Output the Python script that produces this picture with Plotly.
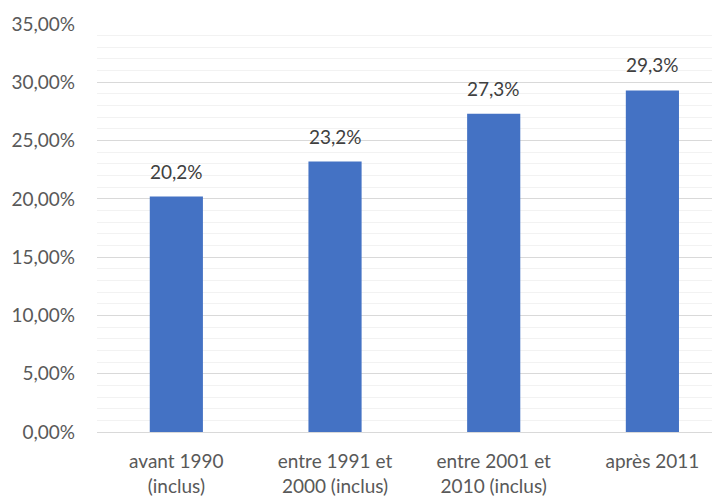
import plotly.graph_objects as go

categories = ["avant 1990<br>(inclus)", "entre 1991 et<br>2000 (inclus)",
              "entre 2001 et<br>2010 (inclus)", "après 2011"]
values = [20.2, 23.2, 27.3, 29.3]
labels = ["20,2%", "23,2%", "27,3%", "29,3%"]
tick_vals = [0, 5, 10, 15, 20, 25, 30, 35]
tick_text = ["0,00%", "5,00%", "10,00%", "15,00%", "20,00%", "25,00%", "30,00%", "35,00%"]

FONT = "Lato"
FS = 19

fig = go.Figure()
fig.add_trace(go.Bar(
    x=list(range(len(categories))), y=values,
    marker=dict(color="#4472C4", line=dict(width=0)),
    width=0.335, hoverinfo="skip",
))
for i, (v, t) in enumerate(zip(values, labels)):
    fig.add_annotation(x=i, y=v, text=t, showarrow=False, yanchor="bottom",
                       yshift=12, font=dict(family=FONT, size=FS, color="#404040"))

fig.update_layout(
    width=720, height=499,
    margin=dict(l=89, r=8, t=16, b=75),
    paper_bgcolor="white", plot_bgcolor="white",
    showlegend=False,
    separators=", ",
    font=dict(family=FONT, size=FS, color="#595959"),
)
fig.update_xaxes(
    automargin=False,
    range=[-0.5, 3.426], tickmode="array",
    tickvals=list(range(len(categories))), ticktext=categories,
    showgrid=False, zeroline=False, showline=False, ticks="",
    tickfont=dict(family=FONT, size=FS, color="#595959"),
    ticklabelstandoff=16,
)
fig.update_yaxes(
    automargin=False,
    range=[0, 35], tickmode="array", tickvals=tick_vals, ticktext=tick_text,
    showgrid=True, gridcolor="#d9d9d9", gridwidth=1,
    zeroline=True, zerolinecolor="#d9d9d9", zerolinewidth=1,
    showline=False, ticks="",
    minor=dict(dtick=1, showgrid=True, gridcolor="#f2f2f2", gridwidth=1),
    tickfont=dict(family=FONT, size=FS, color="#595959"),
    ticklabelstandoff=21,
)
fig.write_html("out.html")
